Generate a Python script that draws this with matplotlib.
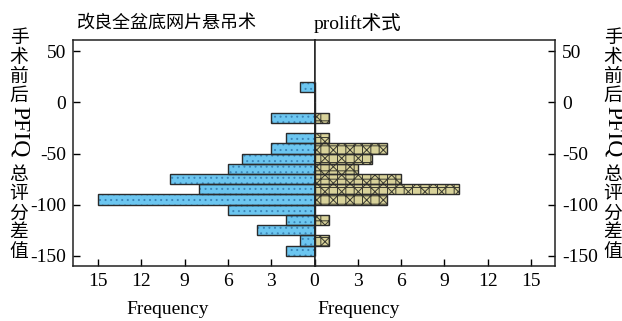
import matplotlib
matplotlib.use("Agg")
import matplotlib.pyplot as plt

# bins of width 10 (upper edge 20 down to -150), centre of each bin
bin_centers = [15, 5, -5, -15, -25, -35, -45, -55, -65, -75, -85, -95, -105, -115, -125, -135, -145]
# counts for each group
left_counts = [1, 0, 0, 3, 0, 2, 3, 5, 6, 10, 8, 15, 6, 2, 4, 1, 2]
right_counts = [0, 0, 0, 1, 0, 1, 5, 4, 3, 6, 10, 5, 0, 1, 0, 1, 0]

left_title = "改良全盆底网片悬吊术"
right_title = "prolift术式"
y_label_parts = ["手术前后", "PFIQ", "总评分差值"]
x_ticks = [0, 3, 6, 9, 12, 15]
y_ticks = [-150, -100, -50, 0, 50]

serif = ["Liberation Serif", "Noto Sans CJK SC"]
cjk = ["Noto Sans CJK SC", "Liberation Serif"]
plt.rcParams["font.family"] = serif
plt.rcParams["axes.unicode_minus"] = False
plt.rcParams["hatch.linewidth"] = 0.7

W, H = 622, 321
fig = plt.figure(figsize=(W / 100, H / 100), dpi=100)

x0, xc, x1 = 73, 314.5, 555
ytop, ybot = 40, 266
ax1 = fig.add_axes([x0 / W, 1 - ybot / H, (xc - x0) / W, (ybot - ytop) / H])
ax2 = fig.add_axes([xc / W, 1 - ybot / H, (x1 - xc) / W, (ybot - ytop) / H])

blue = "#6cc6f0"
khaki = "#d8d29a"
edge = "#2b2b2b"

# fill + hatch first (hatch takes the edge colour), then the dark outline
ax1.barh(bin_centers, left_counts, height=10, color=blue, edgecolor="#3d86b8",
         linewidth=0, hatch="...")
ax1.barh(bin_centers, left_counts, height=10, fill=False, edgecolor=edge, linewidth=1.0)
ax2.barh(bin_centers, right_counts, height=10, color=khaki, edgecolor="#3a3a30",
         linewidth=0, hatch="xx++")
ax2.barh(bin_centers, right_counts, height=10, fill=False, edgecolor=edge, linewidth=1.0)

for ax in (ax1, ax2):
    ax.set_ylim(-160, 61)
    ax.set_yticks(y_ticks)
    ax.set_xticks(x_ticks)
    ax.tick_params(direction="in", length=5, width=1, labelsize=14, pad=5)
    for s in ax.spines.values():
        s.set_linewidth(1.1)
        s.set_color("#222222")

ax1.set_xlim(16.73, 0)
ax2.set_xlim(0, 16.67)
ax1.tick_params(axis="y", left=True, right=False)
ax2.tick_params(axis="y", left=False, right=True, labelleft=False, labelright=True)
ax2.set_xticklabels([""] + [str(t) for t in x_ticks[1:]])

ax1.set_xlabel("Frequency", fontsize=14)
ax2.set_xlabel("Frequency", fontsize=14)
ax1.xaxis.set_label_coords((168 - x0) / (xc - x0), -0.155)
ax2.xaxis.set_label_coords((359 - xc) / (x1 - xc), -0.155)

ax1.text((167 - x0) / (xc - x0), (ybot - 23) / (ybot - ytop), left_title,
         transform=ax1.transAxes, ha="center", va="center", fontsize=13, family=cjk)
ax2.text((358 - xc) / (x1 - xc), (ybot - 23) / (ybot - ytop), right_title,
         transform=ax2.transAxes, ha="center", va="center", fontsize=14, family=serif)


# vertical axis titles: CJK stacked upright, latin part turned sideways
def vertical_label(xpix, ytop_pix):
    y = ytop_pix
    for part in y_label_parts:
        if part.isascii():
            fig.text(xpix / W, 1 - (y + 1) / H, part, rotation=270, ha="center", va="top",
                     fontsize=17, family=serif)
            y += 61
        else:
            for ch in part:
                fig.text(xpix / W, 1 - (y + 9) / H, ch, ha="center", va="center",
                         fontsize=13.5, family=cjk)
                y += 19


vertical_label(19, 29)
vertical_label(613, 29)

fig.savefig("out.png", dpi=100)
